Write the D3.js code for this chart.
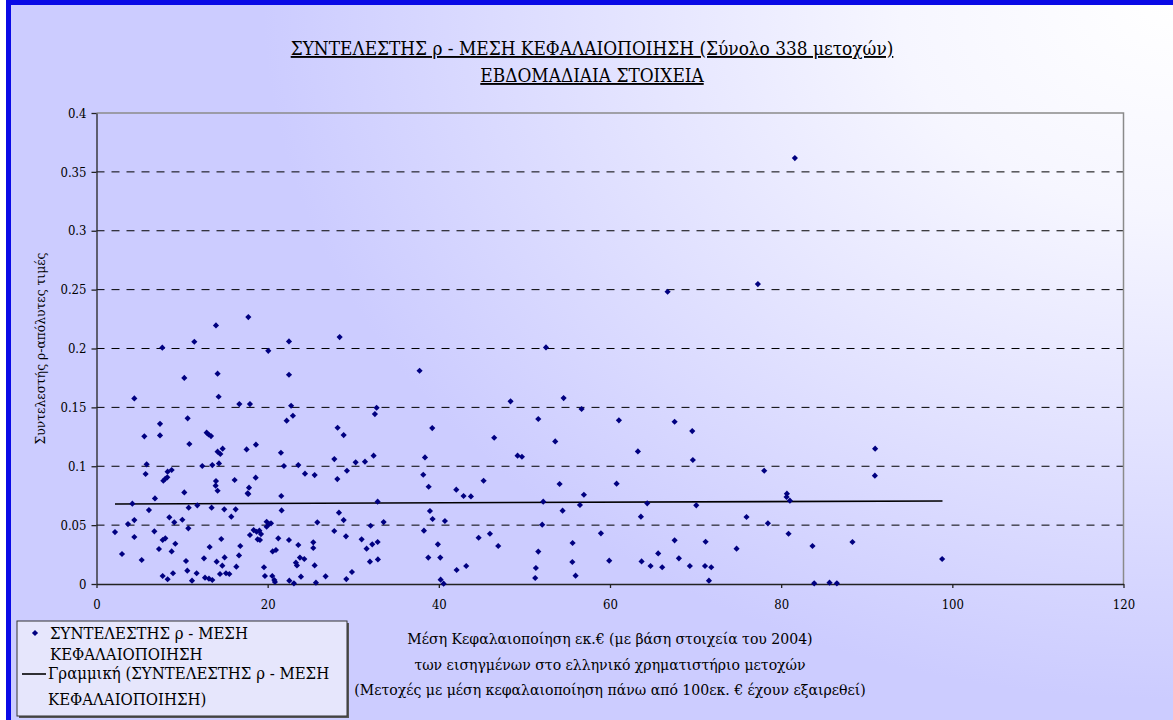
<!DOCTYPE html>
<html lang="el">
<head>
<meta charset="UTF-8">
<title>ΣΥΝΤΕΛΕΣΤΗΣ ρ - ΜΕΣΗ ΚΕΦΑΛΑΙΟΠΟΙΗΣΗ</title>
<style>
  body { margin: 0; background: #fff; }
  svg { display: block; }
</style>
</head>
<body>
<svg id="chart" width="1173" height="720"></svg>
<script src="https://cdnjs.cloudflare.com/ajax/libs/d3/7.8.5/d3.min.js"></script>
<script>
// mean capitalisation (mil. €) of each stock
var capX = [
  13.96, 17.74, 7.69, 11.43, 20.07, 22.49, 14.15, 10.26, 4.42, 14.27, 16.69, 17.93, 22.49, 22.22,
  7.42, 10.65, 5.59, 7.42, 12.87, 13.10, 13.38, 10.85, 14.15, 14.47, 14.74, 17.54, 18.63, 21.55,
  5.86, 5.74, 8.31, 8.78, 7.81, 8.04, 8.27, 12.36, 13.53, 14.31, 13.96, 13.92, 14.15, 16.14,
  17.82, 17.66, 17.74, 18.60, 21.90, 21.59, 6.83, 4.19, 10.26, 6.13, 10.77, 11.78, 13.45, 14.93,
  16.26, 15.75, 21.63, 2.16, 3.68, 4.42, 8.51, 9.09, 10.03, 10.73, 6.76, 4.42, 7.73, 8.04,
  9.21, 7.30, 8.78, 2.98, 5.28, 10.46, 10.61, 11.70, 11.16, 7.73, 8.31, 8.94, 12.56, 13.22,
  14.04, 14.70, 14.97, 12.68, 13.14, 13.53, 14.43, 15.13, 15.52, 14.58, 16.80, 16.65, 16.34, 17.93,
  18.36, 18.71, 19.03, 19.22, 18.83, 19.10, 19.88, 20.15, 20.39, 19.88, 19.57, 19.68, 20.54, 20.78,
  20.85, 20.58, 20.97, 21.24, 22.49, 22.53,
  28.41, 37.75, 22.74, 22.95, 32.73, 32.53, 28.17, 28.88, 39.23, 23.58, 24.36, 25.49, 27.79, 28.14,
  29.26, 30.28, 31.37, 32.38, 38.38, 38.18, 38.81, 42.04, 42.89, 43.75, 45.23, 32.85, 28.33, 28.88,
  25.80, 27.78, 29.15, 32.03, 33.55, 30.98, 31.56, 32.22, 32.85, 31.95, 32.88, 23.58, 25.33, 25.33,
  23.77, 24.28, 23.30, 23.42, 25.49, 23.89, 23.07, 25.64, 26.77, 29.19, 29.85, 38.96, 39.27, 40.71,
  38.26, 39.89, 38.77, 40.17, 40.21, 40.56, 42.08, 43.20, 44.65,
  52.52, 48.38, 54.58, 56.68, 51.62, 61.04, 67.55, 46.47, 53.60, 49.20, 49.71, 63.26, 54.11, 60.77,
  56.95, 52.20, 54.46, 56.49, 64.35, 63.61, 52.08, 45.97, 46.94, 51.62, 55.63, 58.94, 51.34, 51.26,
  55.60, 55.98, 59.91, 63.69, 64.74, 65.63, 66.10, 67.55, 68.05,
  69.61, 69.68, 78.02, 90.98, 90.95, 80.67, 80.63, 81.02, 70.08, 75.95, 78.45, 80.86, 71.17, 74.79,
  83.66, 88.33, 98.81, 69.33, 71.10, 71.83, 71.56, 83.86, 85.65, 86.51, 81.60, 77.28, 66.73
];
// absolute value of rho for each stock
var rhoY = [
  0.2196, 0.2267, 0.2007, 0.2057, 0.1980, 0.2060, 0.1786, 0.1750, 0.1576, 0.1590, 0.1528, 0.1528, 0.1777, 0.1387,
  0.1360, 0.1407, 0.1254, 0.1262, 0.1285, 0.1270, 0.1256, 0.1189, 0.1124, 0.1104, 0.1149, 0.1143, 0.1183, 0.1115,
  0.1016, 0.0934, 0.0954, 0.0968, 0.0877, 0.0894, 0.0906, 0.1002, 0.1010, 0.1024, 0.0874, 0.0835, 0.0792, 0.0883,
  0.0818, 0.0770, 0.0764, 0.0903, 0.1002, 0.0747, 0.0727, 0.0682, 0.0778, 0.0628, 0.0648, 0.0668, 0.0648, 0.0634,
  0.0634, 0.0572, 0.0625, 0.0441, 0.0509, 0.0543, 0.0566, 0.0524, 0.0546, 0.0473, 0.0447, 0.0399, 0.0374, 0.0388,
  0.0342, 0.0297, 0.0277, 0.0255, 0.0204, 0.0195, 0.0113, 0.0091, 0.0028, 0.0068, 0.0040, 0.0091, 0.0218, 0.0314,
  0.0190, 0.0156, 0.0226, 0.0054, 0.0045, 0.0034, 0.0085, 0.0091, 0.0085, 0.0382, 0.0323, 0.0243, 0.0147, 0.0416,
  0.0458, 0.0444, 0.0453, 0.0424, 0.0379, 0.0374, 0.0529, 0.0509, 0.0515, 0.0487, 0.0142, 0.0068, 0.0068, 0.0034,
  0.0017, 0.0277, 0.0289, 0.0388, 0.0374, 0.0028,
  0.2097, 0.1811, 0.1514, 0.1429, 0.1497, 0.1443, 0.1327, 0.1265, 0.1324, 0.1010, 0.0937, 0.0925, 0.1061, 0.0891,
  0.0962, 0.1033, 0.1039, 0.1090, 0.1075, 0.0928, 0.0826, 0.0801, 0.0747, 0.0744, 0.0877, 0.0699, 0.0606, 0.0543,
  0.0524, 0.0450, 0.0405, 0.0495, 0.0526, 0.0379, 0.0300, 0.0337, 0.0357, 0.0190, 0.0209, 0.0331, 0.0354, 0.0306,
  0.0224, 0.0212, 0.0181, 0.0158, 0.0158, 0.0062, 0.0006, 0.0011, 0.0065, 0.0042, 0.0102, 0.0620, 0.0552, 0.0535,
  0.0453, 0.0337, 0.0224, 0.0224, 0.0037, 0.0003, 0.0119, 0.0153, 0.0393,
  0.2009, 0.1551, 0.1579, 0.1486, 0.1401, 0.1390, 0.1378, 0.1242, 0.1211, 0.1090, 0.1081, 0.1126, 0.0849, 0.0852,
  0.0758, 0.0699, 0.0623, 0.0671, 0.0685, 0.0572, 0.0504, 0.0427, 0.0323, 0.0275, 0.0348, 0.0430, 0.0136, 0.0051,
  0.0187, 0.0071, 0.0198, 0.0192, 0.0153, 0.0260, 0.0142, 0.0371, 0.0218,
  0.1299, 0.1053, 0.0962, 0.1149, 0.0920, 0.0767, 0.0739, 0.0708, 0.0668, 0.0569, 0.0515, 0.0427, 0.0359, 0.0300,
  0.0323, 0.0357, 0.0212, 0.0153, 0.0153, 0.0142, 0.0028, 0.0006, 0.0011, 0.0006, 0.3617, 0.2547, 0.2482
];
// linear trend line end points
var trendX = [2.16, 98.85];
var trendY = [0.0680, 0.0705];

var xTicks = [0, 20, 40, 60, 80, 100, 120];
var yTicks = [0, 0.05, 0.1, 0.15, 0.2, 0.25, 0.3, 0.35, 0.4];

var titleLines = ["ΣΥΝΤΕΛΕΣΤΗΣ ρ - ΜΕΣΗ ΚΕΦΑΛΑΙΟΠΟΙΗΣΗ (Σύνολο 338 μετοχών)", "ΕΒΔΟΜΑΔΙΑΙΑ ΣΤΟΙΧΕΙΑ"];
var xTitleLines = [
  "Μέση Κεφαλαιοποίηση εκ.€ (με βάση στοιχεία του 2004)",
  "των εισηγμένων στο ελληνικό χρηματιστήριο μετοχών",
  "(Μετοχές με μέση κεφαλαιοποίηση πάνω από 100εκ. € έχουν εξαιρεθεί)"
];
var yTitle = "Συντελεστής ρ-απόλυτες τιμές";
var legendLabels = ["ΣΥΝΤΕΛΕΣΤΗΣ ρ - ΜΕΣΗ", "ΚΕΦΑΛΑΙΟΠΟΙΗΣΗ", "Γραμμική (ΣΥΝΤΕΛΕΣΤΗΣ ρ - ΜΕΣΗ", "ΚΕΦΑΛΑΙΟΠΟΙΗΣΗ)"];

var FONT = "'DejaVu Serif Condensed', 'DejaVu Serif', serif";
var svg = d3.select("#chart").style("font-family", FONT);
var W = 1173, H = 720;

// scale the font of a group of text lines so that its reference line gets the wanted width
function fitWidth(sel, refIndex, wanted) {
  var node = sel.nodes()[refIndex];
  var fs = parseFloat(d3.select(node).attr("font-size"));
  var len = node.getComputedTextLength();
  sel.attr("font-size", fs * wanted / len);
}

// background gradient
var defs = svg.append("defs");
var grad = defs.append("radialGradient")
  .attr("id", "bg")
  .attr("gradientUnits", "userSpaceOnUse")
  .attr("cx", W).attr("cy", 0).attr("r", 700)
  .attr("gradientTransform", "translate(" + W + ",0) scale(1.3,1) translate(" + (-W) + ",0)");
grad.append("stop").attr("offset", "0").attr("stop-color", "#ffffff");
grad.append("stop").attr("offset", "0.3").attr("stop-color", "#f6f6ff");
grad.append("stop").attr("offset", "1").attr("stop-color", "#ccccff");

svg.append("rect").attr("width", W).attr("height", H).attr("fill", "url(#bg)");
svg.append("rect").attr("x", 0).attr("y", 0).attr("width", 6).attr("height", H).attr("fill", "#fff");
svg.append("rect").attr("x", 6).attr("y", 0).attr("width", W - 6).attr("height", 5).attr("fill", "#0a0ae6");
svg.append("rect").attr("x", 6).attr("y", 0).attr("width", 5).attr("height", H).attr("fill", "#0a0ae6");

var x = d3.scaleLinear().domain([0, 120]).range([96.5, 1123.5]);
var y = d3.scaleLinear().domain([0, 0.4]).range([584, 113]);

// gridlines
svg.append("g").selectAll("line")
  .data(yTicks.filter(function(d){ return d > 0 && d < 0.4; }))
  .enter().append("line")
  .attr("x1", x(0)).attr("x2", x(120))
  .attr("y1", function(d){ return y(d); }).attr("y2", function(d){ return y(d); })
  .attr("stroke", "#000").attr("stroke-width", 1)
  .attr("stroke-dasharray", "8,7");

// plot border (top & right)
svg.append("path")
  .attr("d", "M" + x(0) + "," + y(0.4) + "H" + x(120) + "V" + y(0))
  .attr("fill", "none").attr("stroke", "#8a8a8a").attr("stroke-width", 1.5);

// axes
var yAxis = svg.append("g")
  .attr("transform", "translate(" + x(0) + ",0)")
  .call(d3.axisLeft(y).tickValues(yTicks).tickSize(5).tickSizeOuter(0).tickPadding(5)
    .tickFormat(function(d){ return String(+d.toFixed(2)); }));
var xAxis = svg.append("g")
  .attr("transform", "translate(0," + y(0) + ")")
  .call(d3.axisBottom(x).tickValues(xTicks).tickSize(4).tickSizeOuter(0).tickPadding(12));
[xAxis, yAxis].forEach(function(a){
  a.attr("font-family", FONT);
  a.selectAll("path, line").attr("stroke", "#222").attr("stroke-width", 1.3);
  a.selectAll("text").attr("font-size", 13).attr("fill", "#000");
});

// trend line
var trend = trendX.map(function(v, i){ return [v, trendY[i]]; });
svg.append("path")
  .datum(trend)
  .attr("d", d3.line().x(function(d){ return x(d[0]); }).y(function(d){ return y(d[1]); }))
  .attr("fill", "none").attr("stroke", "#000").attr("stroke-width", 1.6);

// points
var diamond = d3.symbol().type(d3.symbolSquare).size(19);
svg.append("g").selectAll("path")
  .data(capX.map(function(v, i){ return [v, rhoY[i]]; }))
  .enter().append("path")
  .attr("d", diamond)
  .attr("transform", function(d){ return "translate(" + x(d[0]) + "," + y(d[1]) + ") rotate(45)"; })
  .attr("fill", "#000080");

// title
var title = svg.append("g").selectAll("text")
  .data(titleLines)
  .enter().append("text")
  .attr("x", 592)
  .attr("y", function(d, i){ return 55 + i * 27; })
  .attr("text-anchor", "middle")
  .attr("font-size", 16)
  .attr("text-decoration", "underline")
  .text(function(d){ return d; });
fitWidth(title, 0, 603);

// axis titles
var xTitle = svg.append("g").selectAll("text")
  .data(xTitleLines)
  .enter().append("text")
  .attr("x", (x(0) + x(120)) / 2)
  .attr("y", function(d, i){ return 644 + i * 25.5; })
  .attr("text-anchor", "middle")
  .attr("font-size", 14)
  .text(function(d){ return d; });
fitWidth(xTitle, 2, 512);

var yT = svg.append("text")
  .attr("transform", "translate(45," + (y(0) + y(0.4)) / 2 + ") rotate(-90)")
  .attr("text-anchor", "middle")
  .attr("font-size", 14)
  .text(yTitle);
fitWidth(yT, 0, 192);

// legend
var lg = svg.append("g");
lg.append("rect").attr("x", 19).attr("y", 623).attr("width", 330).attr("height", 95).attr("fill", "#555");
lg.append("rect").attr("x", 17).attr("y", 621).attr("width", 330).attr("height", 95)
  .attr("fill", "#e6e6fc").attr("stroke", "#333").attr("stroke-width", 1);
lg.append("path").attr("d", d3.symbol().type(d3.symbolSquare).size(19))
  .attr("transform", "translate(35,633) rotate(45)").attr("fill", "#000080");
lg.append("line").attr("x1", 22).attr("x2", 46).attr("y1", 674).attr("y2", 674)
  .attr("stroke", "#000").attr("stroke-width", 1.6);
var legendPos = [[50, 639], [50, 660], [48, 679], [48, 705]];
var lgText = lg.selectAll("text.lt")
  .data(legendLabels)
  .enter().append("text")
  .attr("class", "lt")
  .attr("x", function(d, i){ return legendPos[i][0]; })
  .attr("y", function(d, i){ return legendPos[i][1]; })
  .attr("font-size", 14)
  .text(function(d){ return d; });
fitWidth(lgText, 0, 198);
</script>
</body>
</html>
